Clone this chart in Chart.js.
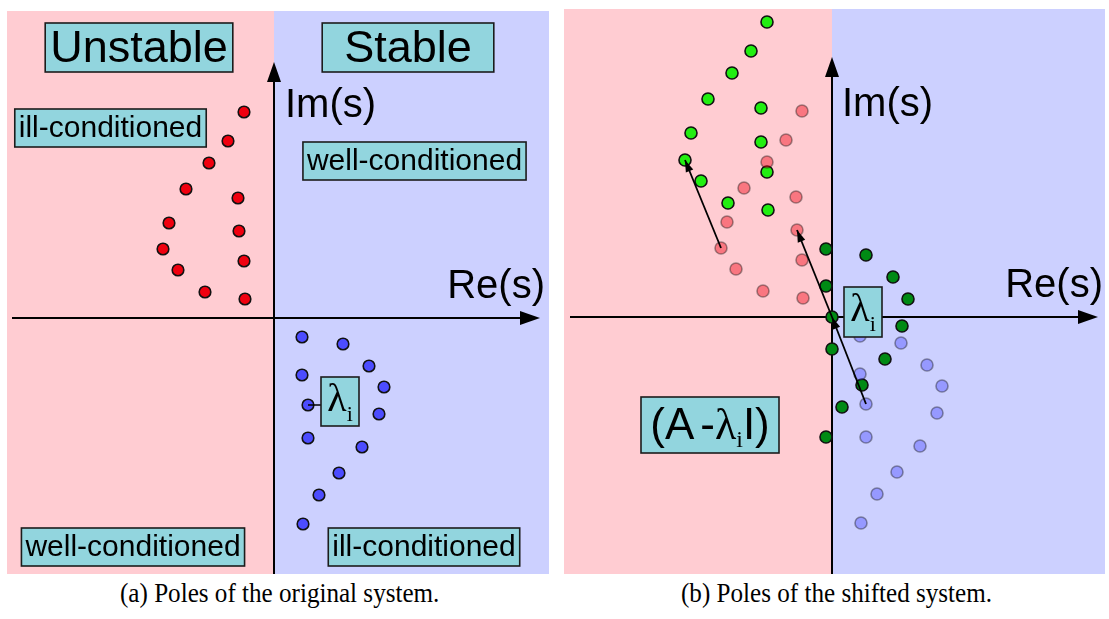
<!DOCTYPE html>
<html>
<head>
<meta charset="utf-8">
<script src="https://cdn.jsdelivr.net/npm/chart.js@4/dist/chart.umd.min.js"></script>
<style>
  html, body { margin: 0; padding: 0; background: #fff; width: 1109px; height: 619px; overflow: hidden; }
  canvas { position: absolute; }
  #poleChartA { left: 7px; top: 11px; }
  #poleChartB { left: 564px; top: 9px; }
  .caption { position: absolute; top: 578px; font-family: "Liberation Serif", "DejaVu Serif", serif; font-size: 27px; color: #000; white-space: nowrap; transform: scaleX(0.93); transform-origin: left top; }
  #captionA { left: 120px; }
  #captionB { left: 681px; }
</style>
</head>
<body>
<canvas id="poleChartA" width="542" height="563"></canvas>
<canvas id="poleChartB" width="541" height="565"></canvas>
<div class="caption" id="captionA">(a) Poles of the original system.</div>
<div class="caption" id="captionB">(b) Poles of the shifted system.</div>
<script>
// Poles of the original system (real part, imaginary part)
const unstableRe = [-3.0, -4.6, -6.5, -8.8, -3.6, -10.5, -3.5, -11.1, -3.0, -9.6, -6.9, -2.9];
const unstableIm = [20.6, 17.7, 15.5, 12.9, 12.0, 9.5, 8.7, 6.9, 5.7, 4.8, 2.6, 1.9];
const stableRe = [2.8, 6.9, 9.5, 2.8, 11.0, 3.4, 10.5, 3.4, 8.8, 6.5, 4.5, 2.9];
const stableIm = [-1.9, -2.6, -4.8, -5.7, -6.9, -8.7, -9.6, -12.0, -12.9, -15.5, -17.7, -20.6];

// Poles of the shifted system (A - lambda_i I)
const shiftedUnstableRe = [-6.5, -8.1, -10.0, -12.4, -7.1, -14.1, -7.1, -14.7, -6.5, -13.1, -10.4, -6.4];
const shiftedUnstableIm = [29.5, 26.6, 24.4, 21.8, 20.9, 18.4, 17.5, 15.7, 14.5, 13.6, 11.4, 10.7];
const shiftedStableRe = [-0.6, 3.4, 6.1, -0.6, 7.6, 0.0, 7.0, 0.0, 5.3, 3.0, 1.0, -0.6];
const shiftedStableIm = [6.8, 6.2, 4.0, 3.1, 1.8, 0.0, -0.9, -3.2, -4.2, -6.8, -9.0, -12.0];

// The chosen shift lambda_i and the displacement arrows [fromRe, fromIm, toRe, toIm]
const lambdaRe = 3.4;
const lambdaIm = -8.7;
const shiftArrows = [
  [-11.1, 6.9, -14.7, 15.7],
  [0.0, 0.0, -3.5, 8.7],
  [lambdaRe, lambdaIm, 0.0, 0.0]
];

const toPoints = (re, im) => re.map((v, i) => ({ x: v, y: im[i] }));

const SANS = '"Liberation Sans", Arial, Helvetica, sans-serif';
const SERIF = '"Liberation Serif", "Times New Roman", serif';
const BOX_FILL = '#92d5de';
const BOX_EDGE = '#1c1c1c';

function arrowHead(ctx, fx, fy, tx, ty, len, half) {
  const ang = Math.atan2(ty - fy, tx - fx);
  const bx = tx - len * Math.cos(ang), by = ty - len * Math.sin(ang);
  const nx = -Math.sin(ang) * half, ny = Math.cos(ang) * half;
  ctx.beginPath();
  ctx.moveTo(tx, ty);
  ctx.lineTo(bx + nx, by + ny);
  ctx.lineTo(bx - nx, by - ny);
  ctx.closePath();
  ctx.fill();
}

function drawBox(ctx, cx, cy, w, h) {
  ctx.fillStyle = BOX_FILL;
  ctx.fillRect(cx - w / 2, cy - h / 2, w, h);
  ctx.strokeStyle = BOX_EDGE;
  ctx.lineWidth = 1.6;
  ctx.strokeRect(cx - w / 2, cy - h / 2, w, h);
}

// Draws text runs [{t, font, dy}] left to right, centred on (cx, cy)
function drawRuns(ctx, runs, cx, cy) {
  let total = 0;
  runs.forEach(r => { ctx.font = r.font; r.w = ctx.measureText(r.t).width + (r.gap || 0); total += r.w; });
  let x = cx - total / 2;
  ctx.fillStyle = '#000';
  ctx.textBaseline = 'alphabetic';
  ctx.textAlign = 'left';
  runs.forEach(r => { ctx.font = r.font; ctx.fillText(r.t, x, cy + r.dy); x += r.w; });
}

const planePlugin = {
  id: 'plane',
  beforeDatasetsDraw(chart, args, o) {
    const { ctx, chartArea: a, scales: { x, y } } = chart;
    const x0 = x.getPixelForValue(0), y0 = y.getPixelForValue(0);
    ctx.save();
    ctx.fillStyle = '#ffccd2';
    ctx.fillRect(a.left, a.top, x0 - a.left, a.bottom - a.top);
    ctx.fillStyle = '#ccd0ff';
    ctx.fillRect(x0, a.top, a.right - x0, a.bottom - a.top);

    // axes with arrow heads
    ctx.strokeStyle = '#000';
    ctx.fillStyle = '#000';
    ctx.lineWidth = 2;
    const xs = x.getPixelForValue(o.reFrom), xe = x.getPixelForValue(o.reTo);
    const yt = y.getPixelForValue(o.imTo);
    ctx.beginPath();
    ctx.moveTo(xs, y0); ctx.lineTo(xe - 10, y0);
    ctx.moveTo(x0, a.bottom); ctx.lineTo(x0, yt + 10);
    ctx.stroke();
    arrowHead(ctx, xs, y0, xe, y0, 20, 7);
    arrowHead(ctx, x0, a.bottom, x0, yt, 20, 7);

    // axis names
    ctx.font = '40px ' + SANS;
    ctx.textBaseline = 'alphabetic';
    ctx.textAlign = 'left';
    ctx.fillText('Im(s)', x.getPixelForValue(o.imLabel[0]), y.getPixelForValue(o.imLabel[1]));
    ctx.textAlign = 'right';
    ctx.fillText('Re(s)', x.getPixelForValue(o.reLabel[0]), y.getPixelForValue(o.reLabel[1]));
    ctx.restore();
  },
  afterDatasetsDraw(chart, args, o) {
    const { ctx, scales: { x, y } } = chart;
    ctx.save();
    (o.boxes || []).forEach(b => {
      const cx = x.getPixelForValue(b.x), cy = y.getPixelForValue(b.y);
      ctx.font = b.size + 'px ' + SANS;
      const w = ctx.measureText(b.text).width + 2 * b.pad;
      drawBox(ctx, cx, cy, w, b.h);
      ctx.fillStyle = '#000';
      ctx.textAlign = 'center';
      ctx.textBaseline = 'middle';
      ctx.fillText(b.text, cx, cy + b.size * 0.04);
    });
    if (o.lambdaBox) {
      const L = o.lambdaBox;
      const cx = x.getPixelForValue(L.x), cy = y.getPixelForValue(L.y);
      if (L.link) {
        ctx.strokeStyle = '#000';
        ctx.lineWidth = 1.5;
        ctx.beginPath();
        ctx.moveTo(x.getPixelForValue(L.link[0]), y.getPixelForValue(L.link[1]));
        ctx.lineTo(cx - L.w / 2, y.getPixelForValue(L.link[1]));
        ctx.stroke();
      }
      drawBox(ctx, cx, cy, L.w, L.h);
      drawRuns(ctx, [
        { t: '\u03bb', font: '40px ' + SERIF, dy: 9 },
        { t: 'i', font: '22px ' + SERIF, dy: 19 }
      ], cx, cy);
    }
    if (o.shiftBox) {
      const S = o.shiftBox;
      const cx = x.getPixelForValue(S.x), cy = y.getPixelForValue(S.y);
      drawBox(ctx, cx, cy, S.w, S.h);
      drawRuns(ctx, [
        { t: '(A', font: '44px ' + SANS, dy: 14, gap: 6 },
        { t: '-', font: '44px ' + SANS, dy: 14 },
        { t: '\u03bb', font: '44px ' + SERIF, dy: 14 },
        { t: 'i', font: '24px ' + SERIF, dy: 22 },
        { t: 'I)', font: '44px ' + SANS, dy: 14 }
      ], cx, cy);
    }
    (o.arrows || []).forEach(a => {
      const fx = x.getPixelForValue(a[0]), fy = y.getPixelForValue(a[1]);
      const tx = x.getPixelForValue(a[2]), ty = y.getPixelForValue(a[3]);
      ctx.strokeStyle = '#000';
      ctx.fillStyle = '#000';
      ctx.lineWidth = 1.8;
      ctx.beginPath();
      ctx.moveTo(fx, fy);
      ctx.lineTo(tx, ty);
      ctx.stroke();
      arrowHead(ctx, fx, fy, tx, ty, 12, 4);
    });
    ctx.restore();
  }
};

function poleSet(re, im, fill, edge, r) {
  return {
    data: toPoints(re, im),
    pointRadius: r,
    pointHoverRadius: r,
    pointBackgroundColor: fill,
    pointBorderColor: edge,
    pointBorderWidth: 1.6,
    showLine: false
  };
}

function makeChart(id, datasets, xr, yr, plane) {
  return new Chart(document.getElementById(id), {
    type: 'scatter',
    data: { datasets },
    plugins: [planePlugin],
    options: {
      responsive: false,
      animation: false,
      events: [],
      layout: { padding: 0, autoPadding: false },
      scales: {
        x: { type: 'linear', min: xr[0], max: xr[1], display: false },
        y: { type: 'linear', min: yr[0], max: yr[1], display: false }
      },
      plugins: { legend: { display: false }, tooltip: { enabled: false }, plane }
    }
  });
}

makeChart('poleChartA', [
  poleSet(unstableRe, unstableIm, '#f0000f', '#111', 5.8),
  poleSet(stableRe, stableIm, '#4c4cff', '#111', 5.8)
], [-26.7, 27.5], [-25.6, 30.7], {
  reFrom: -26.2, reTo: 26.6, imTo: 25.6,
  imLabel: [1.1, 20.1], reLabel: [27.1, 2.0],
  boxes: [
    { text: 'Unstable', x: -13.5, y: 27.05, size: 45, pad: 5, h: 49 },
    { text: 'Stable', x: 13.4, y: 27.05, size: 45, pad: 22, h: 49 },
    { text: 'ill-conditioned', x: -16.35, y: 19.0, size: 30, pad: 4, h: 38 },
    { text: 'well-conditioned', x: 14.05, y: 15.7, size: 30, pad: 4, h: 38 },
    { text: 'well-conditioned', x: -14.1, y: -22.9, size: 30, pad: 4, h: 38 },
    { text: 'ill-conditioned', x: 15.0, y: -22.9, size: 30, pad: 4, h: 38 }
  ],
  lambdaBox: { x: 6.6, y: -8.35, w: 38, h: 49, link: [lambdaRe, lambdaIm] }
});

makeChart('poleChartB', [
  poleSet(unstableRe, unstableIm, 'rgba(240,0,15,0.42)', 'rgba(20,20,20,0.4)', 6),
  poleSet(stableRe, stableIm, 'rgba(76,76,255,0.42)', 'rgba(20,20,20,0.4)', 6),
  poleSet(shiftedUnstableRe, shiftedUnstableIm, '#22ee11', '#111', 6),
  poleSet(shiftedStableRe, shiftedStableIm, '#008a14', '#111', 6)
], [-26.8, 27.3], [-25.7, 30.8], {
  reFrom: -26.2, reTo: 26.6, imTo: 26.0,
  imLabel: [1.0, 20.1], reLabel: [27.1, 2.0],
  lambdaBox: { x: 3.1, y: 0.5, w: 38, h: 50 },
  shiftBox: { x: -12.2, y: -10.8, w: 138, h: 56 },
  arrows: shiftArrows
});
</script>
</body>
</html>
